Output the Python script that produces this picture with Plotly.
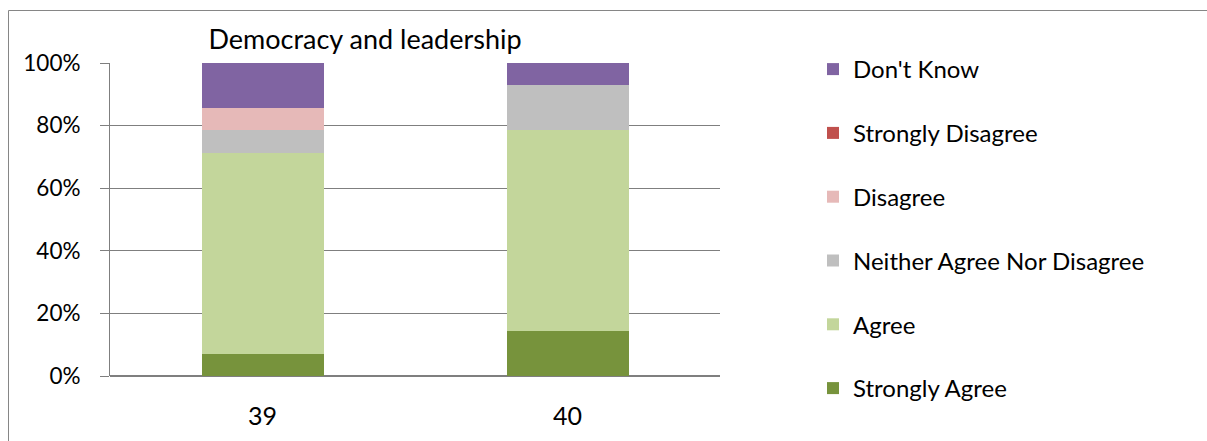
import plotly.graph_objects as go

categories = ["39", "40"]
series_names = ["Strongly Agree", "Agree", "Neither Agree Nor Disagree",
                "Disagree", "Strongly Disagree", "Don't Know"]
strongly_agree = [7.1, 14.3]
agree = [64.3, 64.3]
neither = [7.1, 14.3]
disagree = [7.1, 0.0]
strongly_disagree = [0.0, 0.0]
dont_know = [14.3, 7.1]
series_values = [strongly_agree, agree, neither, disagree, strongly_disagree, dont_know]
colors = ["#77933C", "#C3D69B", "#BFBFBF", "#E6B9B8", "#C0504D", "#8064A2"]
y_ticks = [0, 20, 40, 60, 80, 100]
y_tick_labels = ["0%", "20%", "40%", "60%", "80%", "100%"]

FONT = "Lato"

fig = go.Figure()
n = len(series_names)
for i, (name, vals, col) in enumerate(zip(series_names, series_values, colors)):
    fig.add_trace(go.Bar(
        x=categories, y=vals, name=name, legendgroup=name,
        legendrank=1000 + (n - i),
        marker=dict(color=col, line=dict(width=0)),
        width=0.4,
    ))

W, H = 1207, 441
ml, mr, mt, mb = 110, 487, 63, 65
pw = W - ml - mr
ph = H - mt - mb

def px_x(p):
    return (p - ml) / pw

def px_y(p):
    return (H - mb - p) / ph

fig.update_layout(
    width=W, height=H,
    barmode="stack",
    margin=dict(l=ml, r=mr, t=mt, b=mb, pad=0),
    paper_bgcolor="white", plot_bgcolor="white",
    font=dict(family=FONT, size=22, color="#000000"),
    title=dict(text="Democracy and leadership", x=px_x(365), xanchor="center",
               xref="paper", y=1 - 40 / H, yanchor="middle",
               font=dict(family=FONT, size=27, color="#000000")),
    xaxis=dict(showgrid=False, showline=False, ticks="", tickfont=dict(size=25),
               ticklabelstandoff=23),
    yaxis=dict(range=[0, 100], tickvals=y_ticks, ticktext=y_tick_labels,
               showgrid=True, gridcolor="#7f7f7f", gridwidth=1,
               showline=True, linecolor="#7f7f7f", linewidth=1,
               ticks="outside", ticklen=9, tickcolor="#7f7f7f",
               tickfont=dict(size=22.5), ticklabelstandoff=15,
               zeroline=True, zerolinecolor="#7f7f7f"),
    legend=dict(x=px_x(813), xanchor="left", y=px_y(47), yanchor="top",
                traceorder="grouped", tracegroupgap=29.6, maxheight=1000,
                font=dict(family=FONT, size=24), itemwidth=30,
                bgcolor="rgba(0,0,0,0)"),
    showlegend=True,
)

fig.add_shape(type="rect", xref="paper", yref="paper",
              x0=px_x(8.5), x1=px_x(1215), y0=px_y(450), y1=px_y(10.5),
              line=dict(color="#868686", width=1), fillcolor="rgba(0,0,0,0)",
              layer="below")

fig.write_html("out.html")
